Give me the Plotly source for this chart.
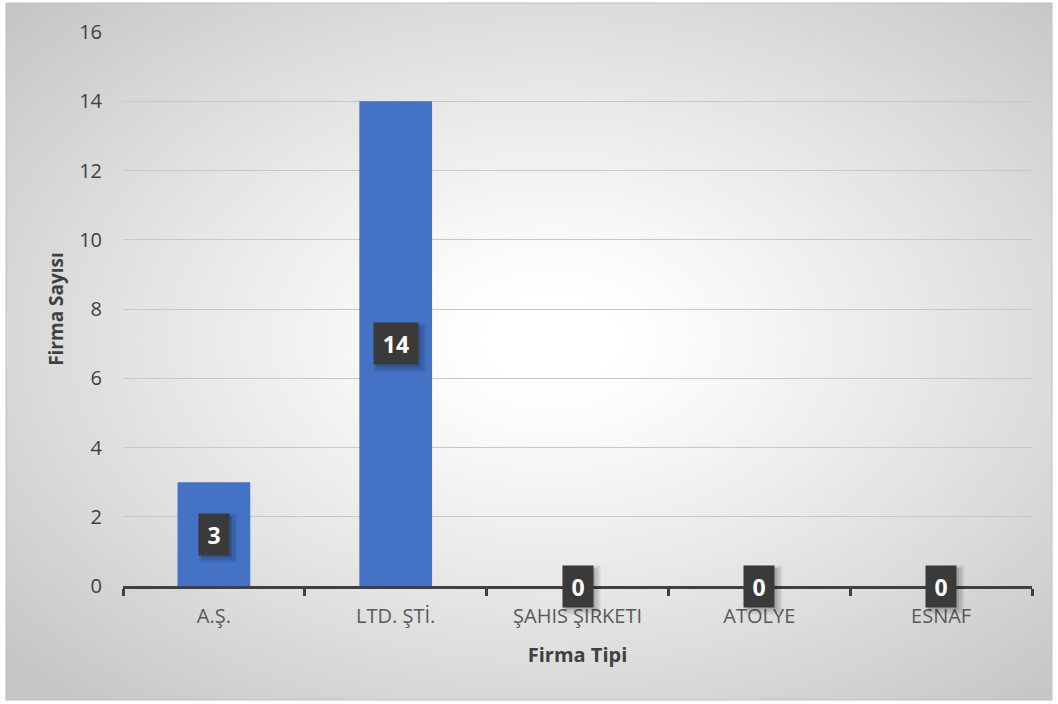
import base64, struct, zlib
import numpy as np
import plotly.graph_objects as go

# ---- data ----
categories = ["A.Ş.", "LTD. ŞTİ.", "ŞAHIS ŞIRKETI", "ATÖLYE", "ESNAF"]
counts = [3, 14, 0, 0, 0]
y_ticks = [0, 2, 4, 6, 8, 10, 12, 14, 16]
x_title = "Firma Tipi"
y_title = "Firma Sayısı"

YMIN, YMAX = y_ticks[0], y_ticks[-1]

W, H = 1058, 704
ML, MR, MT, MB = 123, 26, 32, 118
PW, PH = W - ML - MR, H - MT - MB

# chart box (px)
BX0, BY0, BX1, BY1 = 6, 3, 1052, 700


def px2paper_x(px):
    return (px - ML) / PW


def px2paper_y(py):
    return 1 - (py - MT) / PH


# ---- radial gradient background as a small inline PNG ----
gw, gh = 262, 174
yy, xx = np.mgrid[0:gh, 0:gw]
cx, cy = 0.52 * gw, 0.48 * gh
d = np.sqrt(((xx - cx) / (gw * 0.5)) ** 2 + ((yy - cy) / (gh * 0.5)) ** 2) / np.sqrt(2)
t = np.clip((d - 0.10) / 0.90, 0, 1)
val = (255 - t ** 1.15 * 58).astype(np.uint8)
raw = b"".join(b"\x00" + val[r].tobytes() for r in range(gh))


def chunk(tag, data):
    c = struct.pack(">I", len(data)) + tag + data
    return c + struct.pack(">I", zlib.crc32(tag + data) & 0xFFFFFFFF)


png = b"\x89PNG\r\n\x1a\n" + chunk(b"IHDR", struct.pack(">IIBBBBB", gw, gh, 8, 0, 0, 0, 0)) \
    + chunk(b"IDAT", zlib.compress(raw, 9)) + chunk(b"IEND", b"")
uri = "data:image/png;base64," + base64.b64encode(png).decode()

FONT = "Open Sans, Noto Sans, sans-serif"

fig = go.Figure()
fig.add_trace(go.Bar(
    x=categories, y=counts, marker=dict(color="#4472C4", line=dict(width=0)),
    width=0.4, hoverinfo="x+y",
))

shapes = [dict(
    type="rect", xref="paper", yref="paper", layer="below",
    x0=px2paper_x(BX0), x1=px2paper_x(BX1),
    y0=px2paper_y(BY1), y1=px2paper_y(BY0),
    line=dict(color="#bfbfbf", width=1), fillcolor="rgba(0,0,0,0)",
)]
annotations = []
BOX_H = 41
n = len(categories)
for i, (c, v) in enumerate(zip(categories, counts)):
    txt = str(v)
    bw = 14 * len(txt) + 16
    # position of the label centre in paper units (category slot / value scale)
    xa = (i + 0.5) / n
    ya = (v / 2 - YMIN) / (YMAX - YMIN)
    # soft shadow (layered translucent rects, not clipped)
    for dx, dy, grow, a in [(4, 4, 4, 0.07), (4, 4, 2, 0.09), (3, 3, 0, 0.12)]:
        shapes.append(dict(
            type="rect", xref="paper", yref="paper", layer="above",
            xsizemode="pixel", ysizemode="pixel", xanchor=xa, yanchor=ya,
            x0=-bw / 2 + dx - grow, x1=bw / 2 + dx + grow,
            y0=-BOX_H / 2 - dy - grow, y1=BOX_H / 2 - dy + grow,
            line=dict(width=0), fillcolor=f"rgba(0,0,0,{a})",
        ))
    annotations.append(dict(
        x=c, y=v / 2, xref="x", yref="y", text=f"<b>{txt}</b>", showarrow=False,
        font=dict(family=FONT, size=23, color="white"),
        bgcolor="#3a3a3a", borderpad=0, width=bw, height=BOX_H,
    ))

fig.update_layout(
    width=W, height=H,
    margin=dict(l=ML, r=MR, t=MT, b=MB),
    paper_bgcolor="white", plot_bgcolor="rgba(0,0,0,0)",
    font=dict(family=FONT, color="#595959", size=20),
    showlegend=False,
    bargap=0.6,
    annotations=annotations,
    shapes=shapes,
    images=[dict(
        source=uri, xref="paper", yref="paper",
        x=px2paper_x(BX0), y=px2paper_y(BY0),
        sizex=(BX1 - BX0) / PW, sizey=(BY1 - BY0) / PH,
        xanchor="left", yanchor="top", sizing="stretch", layer="below",
    )],
)

fig.update_xaxes(
    showline=True, linecolor="#404040", linewidth=3,
    ticks="outside", tickson="boundaries", ticklen=7, tickwidth=3, tickcolor="#404040",
    tickfont=dict(size=20, color="#595959"), ticklabelstandoff=10,
    showgrid=False,
    title=dict(text=f"<b>{x_title}</b>", font=dict(size=20, color="#404040"), standoff=20),
)
fig.update_yaxes(
    range=[YMIN, YMAX], tickvals=y_ticks, ticktext=[str(v) for v in y_ticks],
    showgrid=True, gridcolor="#c8c8c8", gridwidth=1,
    zeroline=False, showline=False, ticks="", ticklabelstandoff=20,
    tickfont=dict(size=20, color="#404040"),
    title=dict(text=f"<b>{y_title}</b>", font=dict(size=19, color="#404040"), standoff=10),
)

fig.write_html("out.html")
